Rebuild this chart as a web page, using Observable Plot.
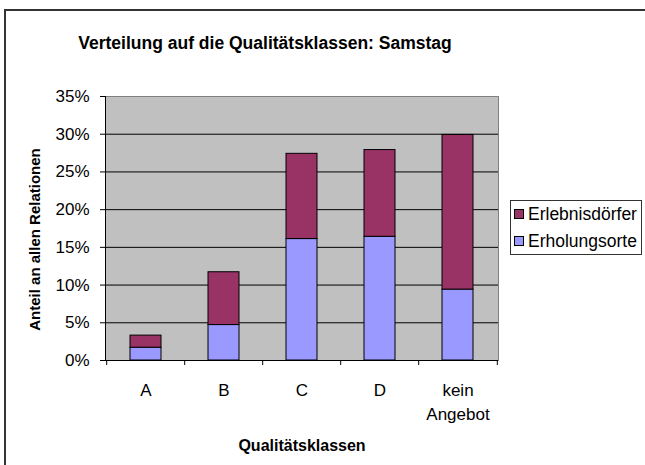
<!DOCTYPE html>
<html>
<head>
<meta charset="utf-8">
<script src="https://cdn.jsdelivr.net/npm/d3@7"></script>
<script src="https://cdn.jsdelivr.net/npm/@observablehq/plot@0.6"></script>
<style>
  html, body { margin: 0; padding: 0; background: #fff; }
  #wrap { position: relative; width: 645px; height: 465px; overflow: hidden; font-family: 'Liberation Sans', Arial, sans-serif; }
  #border { position: absolute; left: 4px; top: 9px; width: 800px; height: 600px; border: 2px solid #333; box-sizing: border-box; pointer-events: none; }
  #legend { position: absolute; left: 510px; top: 200px; width: 132px; height: 55px; border: 1px solid #333; box-sizing: border-box; background: #fff; font-size: 17.5px; color: #000; }
  .item { position: absolute; left: 3px; height: 20px; line-height: 20px; white-space: nowrap; }
  .sw { display: inline-block; width: 8px; height: 8px; border: 1px solid #000; vertical-align: middle; margin-right: 4px; position: relative; top: -1px; }
  svg { position: absolute; left: 0; top: 0; }
</style>
</head>
<body>
<div id="wrap">
  <div id="chart"></div>
  <div id="border"></div>
  <div id="legend"></div>
</div>
<script>
// ---- data ----
const categories = ["A", "B", "C", "D", "kein Angebot"];
const erholungsorte = [0.017, 0.047, 0.161, 0.164, 0.094];
const erlebnisdoerfer = [0.016, 0.070, 0.113, 0.115, 0.205];
const seriesNames = ["Erlebnisdörfer", "Erholungsorte"];
const seriesColors = ["#993366", "#9999FF"];
const yTicks = [0, 0.05, 0.10, 0.15, 0.20, 0.25, 0.30, 0.35];
const gridTicks = [0.05, 0.10, 0.15, 0.20, 0.25, 0.30];
const titleText = "Verteilung auf die Qualitätsklassen: Samstag";
const xTitle = "Qualitätsklassen";
const yTitle = "Anteil an allen Relationen";

// table for stacking (bottom series first)
const rows = [];
categories.forEach((c, i) => rows.push({cat: c, series: "Erholungsorte", value: erholungsorte[i]}));
categories.forEach((c, i) => rows.push({cat: c, series: "Erlebnisdörfer", value: erlebnisdoerfer[i]}));

const W = 645, H = 465, mL = 105, mR = 147, mT = 96, mB = 105;
const step = (W - mL - mR) / categories.length;
const frameH = H - mT - mB;

const chart = Plot.plot({
  width: W, height: H,
  marginLeft: mL, marginRight: mR, marginTop: mT, marginBottom: mB,
  style: {fontFamily: "'Liberation Sans', Arial, sans-serif", fontSize: "17px", background: "transparent", color: "#000"},
  x: {domain: categories, paddingInner: 0.6, paddingOuter: 0.3, axis: null, label: null},
  y: {domain: [0, 0.35], axis: null, label: null},
  color: {domain: seriesNames, range: seriesColors},
  marks: [
    Plot.frame({fill: "#C0C0C0", stroke: "#808080"}),
    Plot.gridY(gridTicks, {stroke: "#000", strokeOpacity: 1}),
    Plot.barY(rows, {x: "cat", y: "value", fill: "series", stroke: "#000", strokeWidth: 1}),
    Plot.ruleY([0], {stroke: "#000"}),
    Plot.frame({anchor: "left", stroke: "#000"}),
    Plot.axisY(yTicks, {label: null, tickSize: 5, tickPadding: 11, tickFormat: d3.format(".0%"), fontSize: 17, stroke: "#000"}),
    Plot.tickX(categories, {x: d => d, dx: -step / 2, insetTop: frameH, insetBottom: -5, stroke: "#000"}),
    Plot.tickX(categories.slice(-1), {x: d => d, dx: step / 2, insetTop: frameH, insetBottom: -5, stroke: "#000"}),
    Plot.text(categories, {x: d => d, text: d => d.replace(" ", "\n"), frameAnchor: "bottom", lineAnchor: "top", dy: 19, lineHeight: 1.4, fontSize: 17, fill: "#000"}),
    Plot.text([xTitle], {text: d => d, frameAnchor: "bottom", dy: 90, fontSize: 16, fontWeight: "bold", fill: "#000"}),
    Plot.text([yTitle], {text: d => d, frameAnchor: "left", textAnchor: "middle", rotate: -90, dx: -70, dy: 11, fontSize: 15, fontWeight: "bold", fill: "#000"}),
    Plot.text([titleText], {text: d => d, frameAnchor: "top", dx: -37, dy: -60, fontSize: 17.5, fontWeight: "bold", fill: "#000"})
  ]
});
document.getElementById("chart").appendChild(chart);

// legend
const legend = document.getElementById("legend");
seriesNames.forEach((name, i) => {
  const it = document.createElement("div");
  it.className = "item";
  it.style.top = (3 + i * 27) + "px";
  const sw = document.createElement("span");
  sw.className = "sw";
  sw.style.background = seriesColors[i];
  it.appendChild(sw);
  it.appendChild(document.createTextNode(name));
  legend.appendChild(it);
});
</script>
</body>
</html>
